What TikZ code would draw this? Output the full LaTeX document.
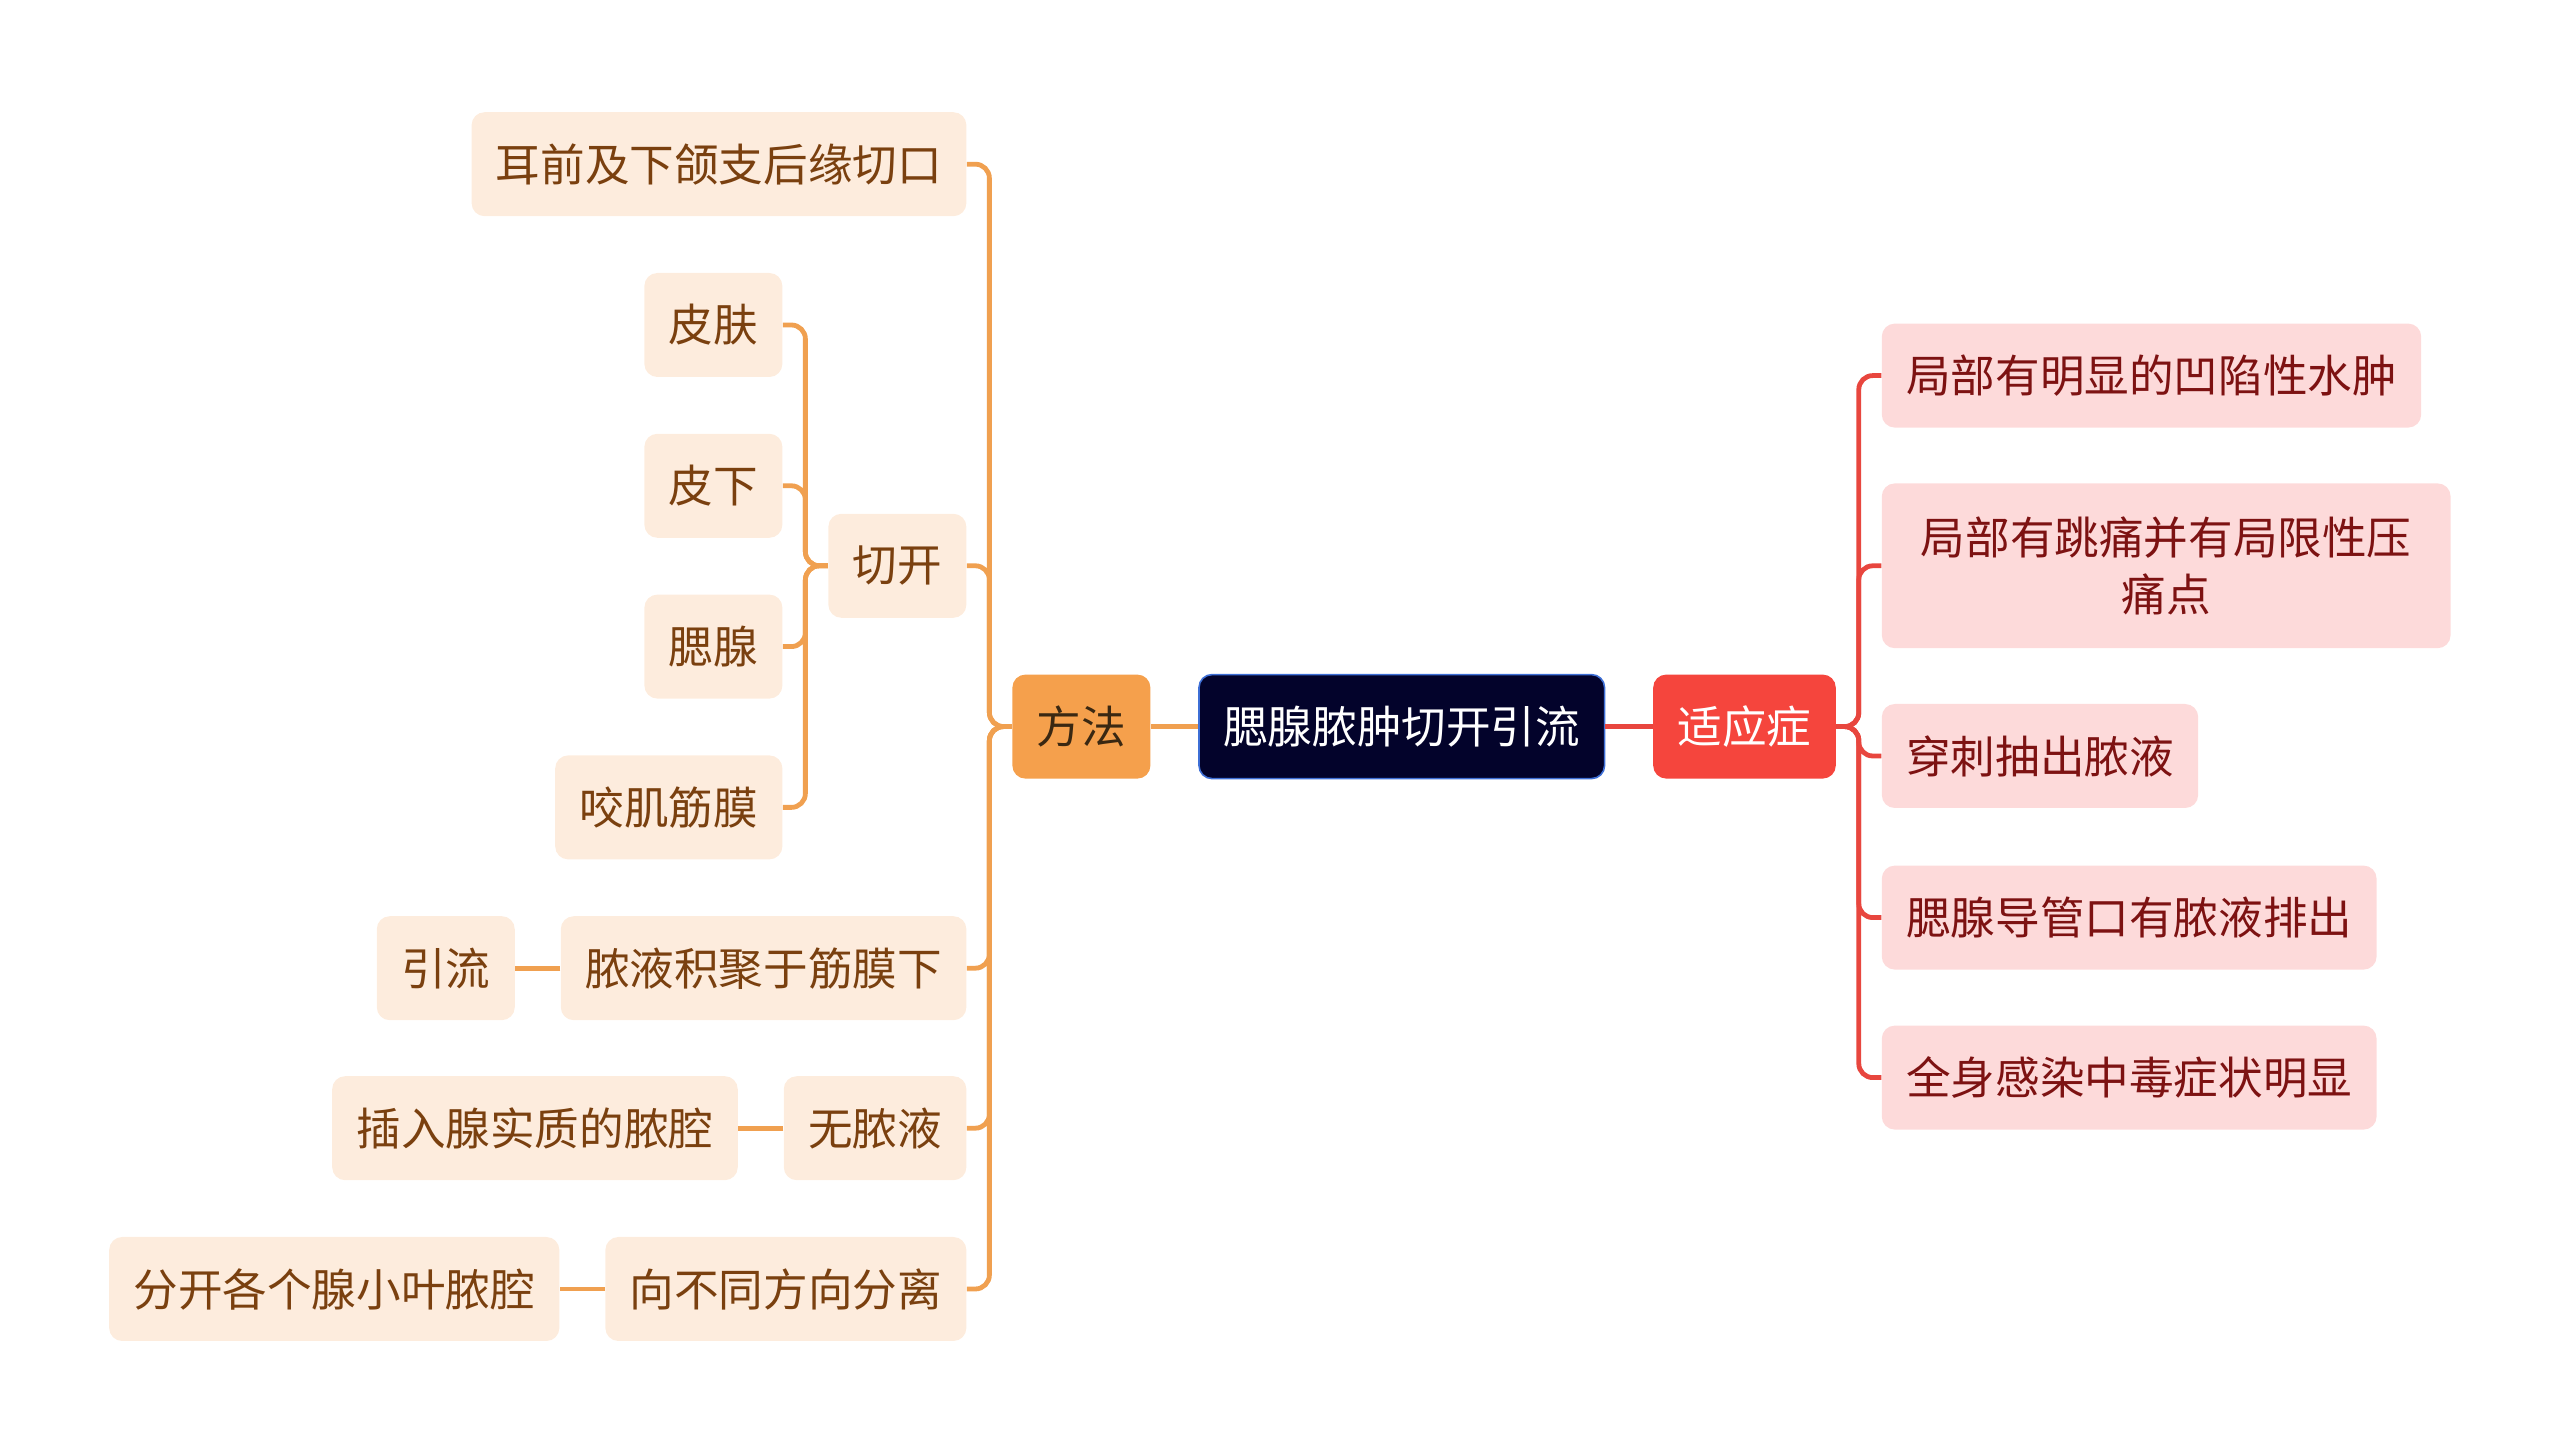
\documentclass[tikz,border=0pt]{standalone}
\usepackage{fontspec}
\setmainfont{Noto Sans CJK SC}
\usetikzlibrary{positioning}

\definecolor{rootfill}{HTML}{03032B}
\definecolor{rootline}{HTML}{3E6FD6}
\definecolor{methodfill}{HTML}{F5A04C}
\definecolor{methodtext}{HTML}{3A2812}
\definecolor{indicfill}{HTML}{F5453D}
\definecolor{peachfill}{HTML}{FDECDD}
\definecolor{peachtext}{HTML}{7A400F}
\definecolor{pinkfill}{HTML}{FDDADA}
\definecolor{pinktext}{HTML}{7D1212}
\definecolor{orangeline}{HTML}{F0A050}
\definecolor{redline}{HTML}{E8463E}

\begin{document}
\begin{tikzpicture}[node distance=22.6pt,
  mmbox/.style={rounded corners=6.5pt, minimum height=52pt, inner xsep=12.2pt, inner ysep=0pt,
    font=\fontsize{22.3pt}{28.6pt}\selectfont},
  topic/.style={mmbox, fill=rootfill, draw=rootline, line width=0.8pt, text=white},
  methodbox/.style={mmbox, fill=methodfill, text=methodtext},
  indicbox/.style={mmbox, fill=indicfill, text=white},
  leaf/.style={mmbox, fill=peachfill, text=peachtext},
  symptom/.style={mmbox, fill=pinkfill, text=pinktext},
  orangelink/.style={draw=orangeline, line width=2.4pt, rounded corners=7pt},
  redlink/.style={draw=redline, line width=2.4pt, rounded corners=7pt}]

  \useasboundingbox (-700.9pt,-363.7pt) rectangle (579.1pt,363.3pt);

  \node[topic] (root) {腮腺脓肿切开引流};
  \node[methodbox] (method) [left=23.7pt of root] {方法};
  \node[indicbox] (indic) [right=23.7pt of root] {适应症};

  % 方法
  \node[leaf] (incision) [left=of method, yshift=281.2pt] {耳前及下颌支后缘切口};
  \node[leaf] (cut) [left=of method, yshift=80.4pt] {切开};
  \node[leaf] (pus) [left=of method, yshift=-120.8pt] {脓液积聚于筋膜下};
  \node[leaf] (nopus) [left=of method, yshift=-200.8pt] {无脓液};
  \node[leaf] (separate) [left=of method, yshift=-281.2pt] {向不同方向分离};

  \node[leaf] (skin) [left=of cut, yshift=120.4pt] {皮肤};
  \node[leaf] (subq) [left=of cut, yshift=40pt] {皮下};
  \node[leaf] (parotid) [left=of cut, yshift=-40.4pt] {腮腺};
  \node[leaf] (fascia) [left=of cut, yshift=-120.8pt] {咬肌筋膜};

  \node[leaf] (drain) [left=of pus] {引流};
  \node[leaf] (insert) [left=of nopus] {插入腺实质的脓腔};
  \node[leaf] (lobule) [left=of separate] {分开各个腺小叶脓腔};

  % 适应症
  \node[symptom] (i1) [right=of indic, yshift=175.5pt] {局部有明显的凹陷性水肿};
  \node[symptom, text width=260pt, align=center, minimum height=82.4pt] (i2)
    [right=of indic, yshift=80.4pt] {局部有跳痛并有局限性压\\痛点};
  \node[symptom] (i3) [right=of indic, yshift=-14.7pt] {穿刺抽出脓液};
  \node[symptom] (i4) [right=of indic, yshift=-95.5pt] {腮腺导管口有脓液排出};
  \node[symptom] (i5) [right=of indic, yshift=-175.5pt] {全身感染中毒症状明显};

  \draw[orangelink] (method) -- (root);
  \draw[redlink] (root) -- (indic);

  \foreach \k in {incision,cut,pus,nopus,separate}
    \draw[orangelink] (method.west) -- ++(-11.3pt,0) |- (\k.east);
  \foreach \k in {skin,subq,parotid,fascia}
    \draw[orangelink] (cut.west) -- ++(-11.3pt,0) |- (\k.east);
  \draw[orangelink] (pus) -- (drain);
  \draw[orangelink] (nopus) -- (insert);
  \draw[orangelink] (separate) -- (lobule);

  \foreach \k in {i1,i2,i3,i4,i5}
    \draw[redlink] (indic.east) -- ++(11.3pt,0) |- (\k.west);

\end{tikzpicture}
\end{document}
